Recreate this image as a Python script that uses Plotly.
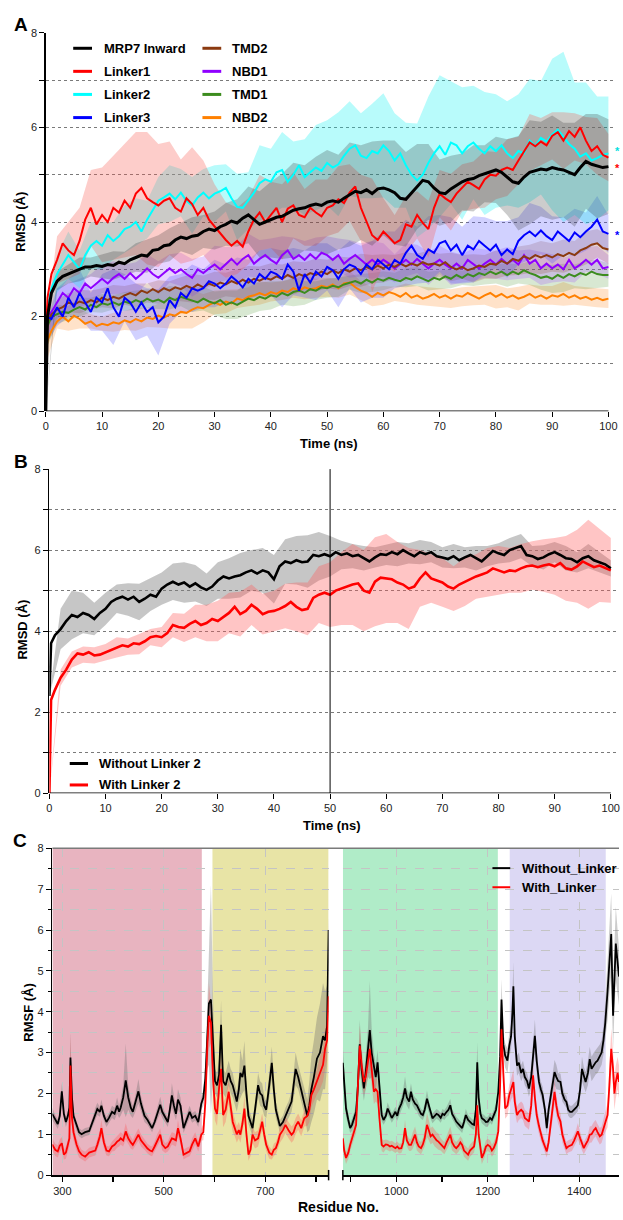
import plotly.graph_objects as go

# ---------------- Panel A data (RMSD, Å) ----------------
time_ns = [0, 0.3] + list(range(1, 101))
band_t = list(range(0, 101, 2))

a_mrp7 = [0, 2.0,
 2.5, 2.75, 2.85, 2.9, 2.95, 3.0, 3.05, 3.05, 3.08, 3.06,
 3.1, 3.08, 3.15, 3.12, 3.2, 3.25, 3.3, 3.28, 3.4, 3.42,
 3.5, 3.52, 3.62, 3.68, 3.65, 3.7, 3.72, 3.8, 3.85, 3.82,
 3.9, 3.95, 4.02, 3.98, 4.08, 4.15, 4.05, 3.95, 4.0, 4.05,
 4.1, 4.12, 4.18, 4.25, 4.28, 4.3, 4.35, 4.38, 4.35, 4.42,
 4.45, 4.42, 4.5, 4.58, 4.65, 4.62, 4.68, 4.6, 4.7, 4.72,
 4.68, 4.62, 4.5, 4.48, 4.62, 4.75, 4.88, 4.85, 4.72, 4.62,
 4.6, 4.7, 4.78, 4.85, 4.9, 4.92, 4.98, 5.02, 5.05, 5.1,
 5.05, 4.95, 4.85, 4.82, 4.95, 5.05, 5.08, 5.12, 5.1, 5.15,
 5.12, 5.1, 5.05, 5.0, 5.15, 5.28, 5.22, 5.18, 5.15, 5.17]
a_linker1 = [1.5, 2.4,
 2.9, 3.2, 3.55, 3.4, 3.3, 3.6, 4.05, 4.3, 3.95, 4.15,
 4.0, 4.3, 4.2, 4.45, 4.3, 4.6, 4.72, 4.5, 4.42, 4.35,
 4.45, 4.5, 4.3, 4.22, 4.5, 4.38, 4.15, 4.3, 4.05, 3.9,
 3.75, 3.62, 3.5, 3.6, 3.48, 3.8, 4.05, 4.2, 4.0, 4.15,
 4.3, 4.0, 4.28, 4.35, 4.15, 4.1, 4.3, 4.2, 4.12, 4.3,
 4.35, 4.48, 4.4, 4.62, 4.75, 4.3, 4.0, 3.72, 3.62, 3.8,
 3.68, 3.55, 3.62, 3.95, 3.9, 4.15, 3.98, 3.85, 4.3, 4.6,
 4.5, 4.42, 4.6, 4.72, 4.85, 4.78, 4.7, 4.9, 5.0, 4.98,
 5.1, 5.15, 5.1, 5.3, 5.5, 5.68, 5.6, 5.7, 5.62, 5.82,
 5.9, 5.72, 5.92, 5.8, 6.0, 5.72, 5.5, 5.6, 5.42, 5.36]
a_linker2 = [1.8, 2.2,
 2.6, 2.9, 3.1, 3.3, 3.15, 3.0, 3.3, 3.5, 3.6, 3.5,
 3.72, 3.6, 3.7, 3.85, 3.9, 4.0, 3.8, 4.05, 4.25, 4.45,
 4.52, 4.6, 4.48, 4.62, 4.45, 4.35, 4.52, 4.62, 4.5, 4.6,
 4.65, 4.72, 4.5, 4.32, 4.3, 4.45, 4.62, 4.82, 4.9, 4.85,
 5.05, 5.1, 4.85, 5.0, 5.2, 4.95, 5.05, 5.15, 5.08, 5.25,
 5.15, 5.22, 5.4, 5.55, 5.62, 5.4, 5.35, 5.5, 5.45, 5.62,
 5.5, 5.3, 5.45, 5.2, 5.0, 4.88, 5.0, 5.25, 5.45, 5.6,
 5.42, 5.68, 5.62, 5.45, 5.6, 5.68, 5.55, 5.45, 5.6, 5.5,
 5.62, 5.45, 5.35, 5.5, 5.45, 5.72, 5.6, 5.78, 5.7, 5.85,
 5.95, 5.8, 5.65, 5.55, 5.38, 5.45, 5.3, 5.35, 5.42, 5.45]
a_linker3 = [1.6, 2.0,
 1.95, 2.2, 2.0, 2.4, 2.2, 2.5, 2.3, 2.1, 2.4, 2.3,
 2.6, 2.2, 2.0, 2.4, 2.3, 2.1, 2.3, 2.1, 2.2, 1.88,
 2.0, 2.35, 2.2, 2.5, 2.4, 2.6, 2.55, 2.6, 2.75, 2.7,
 2.6, 2.7, 2.85, 2.75, 2.62, 2.8, 2.7, 2.9, 2.8, 2.95,
 2.9, 2.8, 3.1, 2.95, 2.55, 2.9, 2.72, 2.95, 2.85, 3.05,
 2.98, 2.8, 3.0, 3.1, 3.05, 2.9, 3.1, 3.0, 3.2, 3.1,
 3.0, 3.2, 3.12, 3.35, 3.5, 3.3, 3.22, 3.42, 3.35, 3.55,
 3.6, 3.4, 3.52, 3.3, 3.5, 3.42, 3.6, 3.5, 3.4, 3.52,
 3.3, 3.42, 3.32, 3.6, 3.72, 3.8, 3.7, 3.82, 3.7, 3.62,
 3.8, 3.7, 3.6, 3.78, 3.68, 3.8, 3.9, 4.05, 3.8, 3.75]
a_nbd1 = [1.7, 2.0,
 2.1, 2.3, 2.5, 2.4, 2.6, 2.5, 2.7, 2.6, 2.7, 2.8,
 2.7, 2.82, 2.9, 2.8, 2.92, 2.8, 2.9, 3.02, 2.9, 2.82,
 2.92, 3.02, 2.92, 3.0, 2.9, 2.82, 3.0, 2.92, 3.02, 3.1,
 3.0, 3.12, 3.22, 3.1, 3.22, 3.3, 3.12, 3.22, 3.3, 3.2,
 3.12, 3.3, 3.4, 3.22, 3.3, 3.2, 3.32, 3.22, 3.35, 3.3,
 3.2, 3.3, 3.12, 3.22, 3.3, 3.2, 3.1, 3.2, 3.1, 3.2,
 3.12, 3.02, 3.12, 3.2, 3.1, 3.22, 3.12, 3.02, 3.12, 3.2,
 3.1, 3.02, 3.12, 3.02, 3.2, 3.1, 3.02, 3.12, 3.2, 3.1,
 3.22, 3.12, 3.2, 3.1, 3.3, 3.12, 3.2, 3.02, 3.12, 3.02,
 3.1, 3.0, 3.2, 3.02, 3.1, 3.2, 3.1, 3.2, 3.02, 3.05]
a_tmd2 = [1.6, 1.9,
 2.05, 2.15, 2.2, 2.3, 2.25, 2.32, 2.28, 2.35, 2.3, 2.4,
 2.35, 2.42, 2.38, 2.45, 2.5, 2.45, 2.55, 2.5, 2.58, 2.52,
 2.6, 2.55, 2.62, 2.58, 2.65, 2.6, 2.68, 2.62, 2.7, 2.65,
 2.72, 2.68, 2.75, 2.7, 2.78, 2.72, 2.8, 2.76, 2.82, 2.78,
 2.85, 2.8, 2.88, 2.82, 2.9, 2.85, 2.92, 2.88, 2.95, 2.9,
 2.98, 2.92, 3.0, 2.95, 3.02, 2.98, 3.05, 3.0, 3.08, 3.02,
 3.1, 3.05, 3.12, 3.06, 3.12, 3.08, 3.15, 3.1, 3.12, 3.08,
 3.15, 3.05, 3.0, 3.05, 2.98, 3.02, 3.08, 3.05, 3.12, 3.1,
 3.18, 3.12, 3.22, 3.18, 3.28, 3.22, 3.3, 3.25, 3.3, 3.25,
 3.32, 3.28, 3.35, 3.3, 3.4, 3.45, 3.52, 3.55, 3.45, 3.42]
a_tmd1 = [1.5, 1.8,
 2.0, 2.05, 2.1, 2.08, 2.15, 2.2, 2.15, 2.25, 2.2, 2.28,
 2.25, 2.3, 2.25, 2.32, 2.28, 2.35, 2.3, 2.38, 2.32, 2.36,
 2.3, 2.4, 2.35, 2.42, 2.38, 2.35, 2.3, 2.38, 2.32, 2.28,
 2.35, 2.25, 2.3, 2.25, 2.32, 2.38, 2.35, 2.42, 2.38, 2.45,
 2.42, 2.5, 2.45, 2.52, 2.55, 2.5, 2.58, 2.55, 2.62, 2.6,
 2.65, 2.62, 2.68, 2.72, 2.75, 2.7, 2.78, 2.72, 2.8, 2.76,
 2.82, 2.78, 2.75, 2.82, 2.78, 2.85, 2.8, 2.75, 2.82, 2.78,
 2.85, 2.8, 2.88, 2.82, 2.9, 2.85, 2.92, 2.88, 2.95, 2.9,
 2.95, 2.88, 2.95, 2.9, 2.98, 2.92, 2.88, 2.82, 2.85, 2.8,
 2.88, 2.82, 2.9, 2.85, 2.92, 2.88, 2.95, 2.9, 2.88, 2.88]
a_nbd2 = [1.2, 1.5,
 1.7, 1.9, 2.0, 1.9, 2.02, 1.95, 1.85, 1.9, 1.8, 1.85,
 1.82, 1.88, 1.85, 1.92, 1.88, 1.95, 1.9, 1.98, 1.95, 2.02,
 1.98, 2.05, 2.02, 2.1, 2.08, 2.15, 2.2, 2.18, 2.25, 2.3,
 2.25, 2.32, 2.28, 2.38, 2.35, 2.42, 2.45, 2.5, 2.45, 2.52,
 2.48, 2.55, 2.52, 2.6, 2.55, 2.62, 2.58, 2.6, 2.65, 2.62,
 2.68, 2.6, 2.7, 2.72, 2.62, 2.55, 2.5, 2.42, 2.5, 2.45,
 2.52, 2.48, 2.42, 2.5, 2.4, 2.45, 2.38, 2.42, 2.48, 2.4,
 2.45, 2.38, 2.45, 2.42, 2.5, 2.44, 2.38, 2.45, 2.5, 2.42,
 2.48, 2.4, 2.45, 2.38, 2.42, 2.48, 2.4, 2.45, 2.38, 2.45,
 2.42, 2.48, 2.4, 2.45, 2.38, 2.42, 2.36, 2.4, 2.35, 2.38]

# band half-widths every 2 ns
a_mrp7_sd = [0.0, 0.2, 0.2, 0.25, 0.2, 0.25, 0.3, 0.25, 0.3, 0.35, 0.3, 0.35, 0.3, 0.4, 0.35,
 0.4, 0.45, 0.5, 0.6, 0.7, 0.8, 0.9, 1.0, 0.9, 1.0, 1.1, 1.0, 1.1, 1.0, 1.1,
 1.0, 1.1, 1.0, 0.9, 0.8, 0.7, 0.7, 0.6, 0.7, 0.6, 0.7, 0.8, 1.0, 1.1, 1.0,
 1.1, 1.0, 1.1, 1.0, 1.1, 1.0]
a_linker1_sd = [0.3, 0.5, 0.6, 0.7, 0.8, 1.0, 1.1, 1.2, 1.3, 1.4, 1.3, 1.2, 1.1, 1.2, 1.0,
 0.9, 0.8, 0.7, 0.7, 0.8, 0.7, 0.8, 0.7, 0.6, 0.7, 0.6, 0.7, 0.6, 0.7, 1.2,
 0.7, 0.6, 0.6, 0.5, 0.6, 0.5, 0.6, 0.5, 0.5, 0.6, 0.5, 0.6, 0.5, 0.6, 0.5,
 0.5, 0.6, 0.5, 0.5, 0.6, 0.5]
a_linker2_sd = [0.2, 0.4, 0.5, 0.4, 0.5, 0.5, 0.4, 0.5, 0.5, 0.4, 0.5, 0.6, 0.5, 0.6, 0.5,
 0.6, 0.5, 0.7, 0.6, 0.8, 0.7, 0.8, 0.7, 0.8, 0.9, 0.9, 1.1, 1.0, 0.9, 1.0,
 1.1, 1.0, 0.9, 1.2, 1.4, 1.5, 1.3, 1.4, 1.2, 1.3, 1.2, 1.1, 1.2, 1.3, 1.2,
 1.6, 1.8, 1.4, 1.5, 1.3, 1.2]
a_linker3_sd = [0.2, 0.4, 0.4, 0.5, 0.4, 0.6, 0.8, 0.5, 0.6, 0.5, 0.7, 0.5, 0.4, 0.5, 0.4,
 0.5, 0.4, 0.5, 0.4, 0.5, 0.5, 0.6, 0.5, 0.5, 0.6, 0.5, 0.6, 0.5, 0.6, 0.6,
 0.7, 0.6, 0.7, 0.6, 0.7, 0.6, 0.7, 0.6, 0.7, 0.6, 0.5, 0.6, 0.5, 0.6, 0.5,
 0.5, 0.4, 0.5, 0.4, 0.5, 0.4]
a_nbd1_sd = [0.2, 0.3, 0.3, 0.3, 0.3, 0.3, 0.35, 0.3, 0.35, 0.3, 0.35, 0.3, 0.35, 0.4, 0.35,
 0.4, 0.35, 0.4, 0.45, 0.4, 0.45, 0.4, 0.45, 0.4, 0.45, 0.4, 0.35, 0.4, 0.35, 0.4,
 0.35, 0.3, 0.35, 0.3, 0.35, 0.3, 0.35, 0.3, 0.35, 0.3, 0.3, 0.35, 0.3, 0.3, 0.35,
 0.3, 0.25, 0.3, 0.25, 0.3, 0.25]
a_tmd2_sd = [0.2, 0.2, 0.2, 0.25, 0.2, 0.2, 0.25, 0.2, 0.25, 0.2, 0.25, 0.2, 0.25, 0.3, 0.25,
 0.3, 0.25, 0.3, 0.35, 0.3, 0.35, 0.3, 0.35, 0.3, 0.35, 0.3, 0.35, 0.3, 0.35, 0.3,
 0.3, 0.25, 0.3, 0.25, 0.3, 0.25, 0.3, 0.25, 0.3, 0.25, 0.3, 0.25, 0.3, 0.3, 0.35,
 0.3, 0.35, 0.3, 0.35, 0.3, 0.3]
a_tmd1_sd = [0.2, 0.2, 0.15, 0.2, 0.15, 0.2, 0.15, 0.2, 0.2, 0.2, 0.2, 0.25, 0.2, 0.25, 0.25,
 0.25, 0.3, 0.3, 0.35, 0.3, 0.3, 0.25, 0.3, 0.25, 0.2, 0.2, 0.2, 0.15, 0.2, 0.2,
 0.2, 0.15, 0.2, 0.2, 0.2, 0.2, 0.2, 0.15, 0.2, 0.2, 0.2, 0.25, 0.2, 0.25, 0.25,
 0.3, 0.3, 0.25, 0.3, 0.3, 0.25]
a_nbd2_sd = [0.2, 0.15, 0.2, 0.2, 0.15, 0.15, 0.2, 0.2, 0.25, 0.2, 0.25, 0.3, 0.35, 0.4, 0.3,
 0.25, 0.25, 0.2, 0.2, 0.25, 0.2, 0.2, 0.2, 0.25, 0.2, 0.2, 0.2, 0.25, 0.2, 0.2,
 0.2, 0.15, 0.2, 0.2, 0.2, 0.2, 0.2, 0.2, 0.2, 0.2, 0.25, 0.2, 0.25, 0.2, 0.2,
 0.2, 0.25, 0.2, 0.2, 0.2, 0.2]

# ---------------- Panel B data (RMSD, Å) ----------------
b_without = [2.4, 3.7,
 3.9, 4.05, 4.25, 4.4, 4.35, 4.45, 4.4, 4.3, 4.45, 4.55,
 4.72, 4.8, 4.85, 4.78, 4.85, 4.72, 4.8, 4.9, 4.85, 5.05,
 5.15, 5.22, 5.15, 5.2, 5.1, 5.18, 5.08, 5.02, 5.1, 5.25,
 5.35, 5.3, 5.35, 5.38, 5.45, 5.5, 5.42, 5.5, 5.45, 5.28,
 5.6, 5.72, 5.68, 5.75, 5.7, 5.72, 5.88, 5.85, 5.9, 5.85,
 5.95, 5.88, 5.92, 5.85, 5.88, 5.8, 5.72, 5.82, 5.9, 5.88,
 5.95, 5.9, 6.0, 5.92, 5.85, 5.95, 5.9, 5.95, 5.85, 5.82,
 5.78, 5.85, 5.75, 5.82, 5.88, 5.8, 5.72, 5.85, 5.98, 5.92,
 5.88, 6.0, 6.05, 6.1, 5.88, 5.85, 5.78, 5.82, 5.9, 5.95,
 5.88, 5.8, 5.78, 5.7, 5.8, 5.85, 5.75, 5.7, 5.65, 5.55]
b_with = [0.0, 2.3,
 2.55, 2.85, 3.05, 3.3, 3.45, 3.42, 3.48, 3.4, 3.42, 3.48,
 3.55, 3.6, 3.65, 3.62, 3.7, 3.68, 3.75, 3.85, 3.88, 3.85,
 3.95, 4.15, 4.1, 4.08, 4.18, 4.25, 4.15, 4.2, 4.3, 4.25,
 4.35, 4.45, 4.6, 4.42, 4.5, 4.65, 4.55, 4.42, 4.48, 4.5,
 4.55, 4.62, 4.72, 4.6, 4.52, 4.55, 4.82, 4.9, 4.95, 4.9,
 5.0, 5.05, 5.1, 5.15, 5.18, 5.0, 4.95, 5.22, 5.32, 5.3,
 5.28, 5.2, 5.15, 5.05, 5.1, 5.3, 5.45, 5.3, 5.25, 5.2,
 5.1, 5.05, 5.15, 5.22, 5.3, 5.35, 5.4, 5.45, 5.55, 5.5,
 5.45, 5.5, 5.48, 5.55, 5.6, 5.62, 5.58, 5.62, 5.65, 5.6,
 5.68, 5.55, 5.52, 5.6, 5.72, 5.65, 5.58, 5.62, 5.55, 5.5]
b_without_sd = [0.0, 0.5, 0.6, 0.5, 0.4, 0.4, 0.35, 0.4, 0.45, 0.4, 0.4, 0.45, 0.5, 0.45, 0.4,
 0.45, 0.5, 0.55, 0.5, 0.55, 0.6, 0.55, 0.6, 0.65, 0.6, 0.5, 0.35, 0.3, 0.3, 0.25,
 0.25, 0.3, 0.25, 0.3, 0.25, 0.25, 0.3, 0.25, 0.3, 0.25, 0.25, 0.3, 0.3, 0.25, 0.3,
 0.25, 0.3, 0.25, 0.3, 0.25, 0.2]
b_with_sd = [0.0, 0.2, 0.2, 0.2, 0.2, 0.2, 0.25, 0.2, 0.25, 0.2, 0.25, 0.3, 0.35, 0.4, 0.45,
 0.5, 0.5, 0.55, 0.5, 0.5, 0.5, 0.55, 0.6, 0.65, 0.7, 0.8, 0.9, 1.0, 1.0, 1.1,
 1.1, 1.0, 1.0, 0.7, 0.6, 0.6, 0.55, 0.6, 0.55, 0.6, 0.6, 0.55, 0.6, 0.6, 0.65,
 0.7, 0.8, 0.9, 1.1, 0.9, 0.8]

# ---------------- Panel C data (RMSF, Å) ----------------
c_res1 = [280, 286, 291, 295, 299, 303, 307, 311, 314, 316,
 319, 322, 328, 333, 338, 345, 353, 360, 365, 369,
 374, 377, 382, 387, 392, 398, 403, 408, 412, 415,
 420, 425, 430, 435, 439, 444, 450, 455, 462, 468,
 473, 477, 482, 487, 493, 497, 503, 508, 512, 516,
 520, 524, 528, 533, 539, 545, 551, 556, 562, 568,
 574, 578, 582, 586, 589, 593, 597, 601, 605, 609,
 613, 617, 622, 628, 632, 636, 640, 644, 648, 651,
 655, 659, 663, 667, 671, 675, 680, 686, 690, 694,
 698, 702, 708, 713, 717, 721, 725, 729, 735, 740,
 746, 752, 756, 760, 765, 771, 777, 783, 787, 791,
 796, 802, 808, 814, 818, 822, 825]
c_without1 = [1.5, 1.35, 1.25, 1.45, 2.05, 1.5, 1.3, 1.45, 1.65, 2.88,
 1.9, 1.45, 1.2, 1.05, 1.0, 1.05, 1.08, 1.3, 1.5, 1.62,
 1.55, 1.7, 1.45, 1.3, 1.4, 1.55, 1.5, 1.7, 1.55, 1.65,
 1.9, 2.32, 1.9, 1.65, 1.55, 1.75, 2.05, 1.75, 1.45, 1.35,
 1.25, 1.15, 1.3, 1.5, 1.72, 1.55, 1.4, 1.3, 1.6, 1.95,
 1.7, 1.5, 1.85, 1.7, 1.15, 1.35, 1.55, 1.4, 1.45, 1.3,
 1.75, 1.9, 2.36, 3.4, 4.2, 4.3, 3.4, 2.3, 2.2, 2.45,
 3.68, 2.3, 2.2, 2.5, 2.3, 2.2, 2.0, 1.8, 2.1, 2.5,
 2.4, 2.68, 2.0, 1.45, 1.3, 1.15, 1.6, 2.2, 2.0, 1.95,
 1.7, 1.6, 2.2, 2.75, 2.1, 1.6, 1.4, 1.2, 1.3, 1.45,
 1.6, 1.8, 2.2, 2.6, 2.4, 2.1, 1.8, 1.45, 1.7, 2.1,
 2.4, 2.85, 3.0, 3.4, 3.3, 3.65, 6.0]
c_with1 = [0.75, 0.62, 0.58, 0.72, 0.78, 0.5, 0.55, 0.72, 0.9, 2.68,
 1.4, 1.05, 0.75, 0.58, 0.5, 0.45, 0.55, 0.58, 0.6, 0.74,
 0.95, 1.15, 0.8, 0.6, 0.58, 0.7, 0.74, 0.82, 0.85, 0.9,
 0.85, 1.07, 0.9, 0.8, 0.74, 0.85, 0.99, 0.85, 0.74, 0.65,
 0.6, 0.58, 0.7, 0.85, 0.99, 0.75, 0.66, 0.7, 0.8, 0.9,
 0.88, 0.85, 1.15, 0.9, 0.5, 0.55, 0.58, 0.75, 0.9, 0.7,
 0.99, 1.05, 1.79, 3.2, 3.9, 3.73, 2.4, 1.63, 1.5, 2.12,
 2.6, 1.47, 1.6, 2.04, 1.6, 1.3, 1.15, 1.0, 1.1, 0.99,
 1.25, 1.63, 1.0, 0.5, 0.62, 0.99, 0.85, 0.9, 1.1, 1.31,
 1.0, 0.74, 0.55, 0.5, 0.62, 0.66, 0.8, 0.99, 1.1, 1.23,
 1.1, 0.99, 1.05, 1.2, 1.31, 1.15, 1.39, 1.45, 1.6, 1.96,
 2.1, 2.28, 2.5, 2.7, 3.09, 3.3, 4.38]
c_without1_sd = [.15, .12, .12, .15, .2, .12, .12, .12, .15, .6,
 .2, .12, .12, .1, .1, .1, .1, .12, .15, .15,
 .12, .15, .12, .12, .12, .15, .15, .2, .15, .2,
 .3, .9, .3, .2, .15, .2, .3, .2, .15, .12,
 .12, .1, .12, .15, .2, .15, .12, .12, .15, .3,
 .2, .15, .25, .2, .12, .12, .15, .12, .12, .12,
 .15, .2, .4, .8, 1.5, 2.8, 1.0, .3, .3, .4,
 .6, .3, .3, .3, .3, .3, .25, .25, .3, .6,
 .4, .6, .3, .2, .2, .2, .2, .3, .3, .3,
 .25, .2, .3, .4, .3, .2, .2, .15, .15, .2,
 .2, .25, .3, .4, .3, .3, .3, .4, .6, .8,
 .9, 1.0, 1.2, 1.3, 1.2, 1.0, .3]
c_with1_sd = [.15, .15, .15, .15, .15, .12, .15, .15, .2, .8,
 .3, .2, .15, .15, .12, .12, .12, .12, .12, .15,
 .15, .2, .15, .12, .12, .12, .15, .15, .15, .15,
 .15, .2, .15, .15, .12, .15, .15, .15, .12, .12,
 .12, .12, .12, .15, .15, .15, .12, .12, .15, .15,
 .15, .15, .2, .15, .12, .12, .12, .15, .15, .12,
 .15, .2, .3, .6, .8, .5, .4, .3, .3, .3,
 .4, .3, .3, .3, .25, .25, .2, .2, .2, .2,
 .2, .3, .2, .15, .15, .2, .2, .2, .2, .2,
 .2, .15, .15, .12, .15, .15, .15, .2, .2, .2,
 .2, .2, .2, .2, .2, .2, .2, .25, .3, .3,
 .3, .3, .4, .4, .5, .5, .3]

c_res2 = [883, 886, 890, 895, 899, 903, 908, 912, 916, 920,
 924, 929, 933, 938, 942, 946, 951, 955, 959, 963,
 968, 972, 977, 981, 986, 990, 994, 998, 1002, 1006,
 1011, 1015, 1019, 1023, 1028, 1032, 1036, 1041, 1045, 1049,
 1054, 1058, 1062, 1067, 1071, 1075, 1079, 1084, 1088, 1092,
 1097, 1101, 1105, 1110, 1114, 1118, 1122, 1127, 1131, 1136,
 1140, 1144, 1148, 1152, 1157, 1161, 1166, 1170, 1174, 1177,
 1180, 1184, 1187, 1192, 1196, 1200, 1205, 1209, 1213, 1218,
 1223, 1227, 1230, 1234, 1238, 1243, 1247, 1251, 1254, 1256,
 1259, 1264, 1268, 1273, 1277, 1281, 1286, 1290, 1295, 1299,
 1303, 1307, 1312, 1316, 1320, 1325, 1329, 1333, 1337, 1342,
 1346, 1350, 1354, 1359, 1363, 1368, 1372, 1376, 1380, 1384,
 1389, 1393, 1397, 1402, 1406, 1410, 1414, 1419, 1423, 1427,
 1432, 1436, 1440, 1445, 1449, 1453, 1457, 1462, 1466, 1470,
 1474, 1477, 1480, 1484, 1487]
c_without2 = [2.75, 2.2, 1.63, 1.35, 1.15, 1.23, 1.4, 1.55, 2.2, 3.2,
 2.6, 2.12, 2.5, 3.0, 3.55, 3.0, 2.6, 2.4, 2.76, 2.1,
 1.47, 1.35, 1.45, 1.63, 1.5, 1.4, 1.47, 1.55, 1.45, 1.63,
 1.75, 1.9, 2.12, 1.9, 1.8, 2.04, 1.85, 1.75, 1.71, 1.6,
 1.5, 1.47, 1.6, 1.87, 1.7, 1.5, 1.39, 1.45, 1.5, 1.47,
 1.4, 1.5, 1.47, 1.55, 1.6, 1.71, 1.5, 1.4, 1.31, 1.25,
 1.2, 1.15, 1.3, 1.47, 1.35, 1.3, 1.25, 1.23, 1.6, 2.76,
 1.9, 1.5, 1.39, 1.35, 1.3, 1.31, 1.4, 1.35, 1.47, 1.6,
 2.04, 2.9, 4.3, 3.2, 2.93, 2.8, 3.17, 3.4, 4.0, 4.62,
 3.4, 2.68, 2.75, 2.5, 2.6, 2.4, 2.3, 2.12, 2.4, 2.9,
 3.41, 2.8, 2.28, 2.1, 1.96, 1.6, 1.15, 1.6, 1.87, 2.2,
 2.52, 2.4, 2.3, 2.28, 2.0, 1.85, 1.79, 1.6, 1.55, 1.55,
 1.6, 1.65, 1.71, 2.1, 2.6, 2.4, 2.28, 2.5, 2.84, 2.6,
 2.7, 2.76, 2.8, 2.9, 3.0, 3.3, 3.73, 4.5, 5.35, 5.9,
 3.9, 4.8, 5.67, 5.2, 4.86]
c_with2 = [0.9, 0.6, 0.42, 0.55, 0.74, 0.9, 1.1, 1.23, 2.2, 3.17,
 2.7, 2.28, 2.4, 2.8, 3.09, 2.6, 2.04, 2.1, 2.04, 1.4,
 0.74, 0.7, 0.75, 0.74, 0.7, 0.72, 0.68, 0.66, 0.7, 0.65,
 0.66, 0.8, 1.15, 0.85, 0.74, 0.74, 0.85, 0.99, 0.8, 0.7,
 0.66, 0.75, 0.9, 1.23, 1.1, 0.95, 0.99, 0.9, 0.85, 0.82,
 0.75, 0.7, 0.66, 0.8, 0.9, 0.99, 0.8, 0.7, 0.66, 0.72,
 0.8, 0.74, 0.6, 0.55, 0.5, 0.6, 0.66, 0.7, 1.0, 1.71,
 1.0, 0.6, 0.42, 0.55, 0.7, 0.74, 0.7, 0.6, 0.66, 0.8,
 1.07, 2.2, 3.57, 2.5, 1.63, 1.7, 1.96, 2.1, 2.2, 2.28,
 1.8, 1.47, 1.55, 1.6, 1.55, 1.4, 1.35, 1.31, 1.7, 2.44,
 1.9, 1.47, 1.2, 0.99, 0.85, 0.7, 0.58, 0.8, 1.23, 1.6,
 2.04, 1.7, 1.45, 1.31, 1.0, 0.8, 0.66, 0.7, 0.72, 0.74,
 0.85, 0.95, 1.07, 0.9, 0.75, 0.66, 0.75, 0.85, 0.99, 1.0,
 1.1, 1.15, 1.05, 0.95, 0.99, 1.15, 1.3, 1.47, 2.2, 3.09,
 2.6, 2.0, 2.28, 2.5, 2.28]
c_without2_sd = [.4, .3, .2, .15, .12, .15, .15, .2, .4, .6,
 .4, .3, .4, .6, 1.2, .6, .4, .3, .3, .3,
 .15, .12, .12, .15, .12, .12, .12, .12, .12, .15,
 .15, .2, .3, .2, .2, .2, .15, .15, .15, .15,
 .12, .12, .15, .2, .15, .12, .12, .12, .12, .12,
 .12, .12, .12, .12, .15, .15, .12, .12, .12, .12,
 .12, .12, .12, .15, .12, .12, .12, .12, .2, .5,
 .2, .15, .12, .12, .12, .12, .12, .12, .12, .15,
 .2, .3, .5, .3, .3, .3, .3, .3, .4, .6,
 .3, .25, .25, .2, .2, .2, .2, .2, .25, .3,
 .4, .3, .2, .2, .2, .15, .15, .15, .2, .2,
 .3, .3, .2, .2, .2, .15, .15, .15, .15, .15,
 .15, .15, .15, .2, .3, .25, .25, .3, .3, .3,
 .3, .3, .3, .3, .3, .35, .5, .7, .9, 1.0,
 .8, .8, .9, .8, .7]
c_with2_sd = [.2, .15, .15, .15, .15, .15, .2, .2, .3, .5,
 .4, .3, .3, .4, .5, .4, .3, .3, .3, .2,
 .15, .15, .12, .12, .12, .12, .12, .12, .12, .12,
 .12, .15, .2, .15, .15, .15, .2, .2, .2, .15,
 .15, .15, .2, .3, .25, .2, .2, .2, .2, .2,
 .15, .15, .15, .15, .2, .2, .2, .15, .15, .15,
 .15, .15, .15, .15, .15, .15, .15, .15, .2, .3,
 .2, .15, .15, .15, .15, .15, .15, .15, .15, .15,
 .2, .3, .4, .3, .25, .25, .25, .25, .3, .3,
 .25, .2, .2, .2, .2, .2, .2, .2, .25, .3,
 .25, .2, .2, .15, .15, .15, .15, .15, .2, .25,
 .3, .25, .2, .2, .2, .15, .15, .15, .15, .15,
 .15, .15, .2, .15, .15, .15, .15, .15, .2, .2,
 .2, .2, .2, .2, .2, .2, .25, .3, .4, .5,
 .4, .4, .4, .4, .4]

# domain regions shown in panel C
c_regions1 = [(280.5, 575, 'rgb(232,180,192)'), (596, 825, 'rgb(232,228,166)')]
c_regions2 = [(883, 1222, 'rgb(176,236,200)'), (1248, 1458, 'rgb(220,216,244)')]

# ---------------- checks ----------------
for arr in [a_mrp7, a_linker1, a_linker2, a_linker3, a_nbd1, a_tmd2, a_tmd1, a_nbd2, b_without, b_with]:
    assert len(arr) == len(time_ns), len(arr)
for arr in [a_mrp7_sd, a_linker1_sd, a_linker2_sd, a_linker3_sd, a_nbd1_sd, a_tmd2_sd, a_tmd1_sd, a_nbd2_sd, b_without_sd, b_with_sd]:
    assert len(arr) == len(band_t), len(arr)
for arr in [c_without1, c_with1, c_without1_sd, c_with1_sd]:
    assert len(arr) == len(c_res1), len(arr)
for arr in [c_without2, c_with2, c_without2_sd, c_with2_sd]:
    assert len(arr) == len(c_res2), len(arr)

# ---------------- figure ----------------
W, H = 623, 1220
FONT = "Arial, 'Liberation Sans', sans-serif"


def fx(x):
    return x / W


def fy(y):
    return 1 - y / H


fig = go.Figure()


def add_band(xs, centers, sd, color, xa, ya):
    up = [c + s for c, s in zip(centers, sd)]
    lo = [max(c - s, 0) for c, s in zip(centers, sd)]
    fig.add_trace(go.Scatter(x=list(xs) + list(xs)[::-1], y=up + lo[::-1], mode='lines',
                             fill='toself', fillcolor=color, line=dict(width=0),
                             xaxis=xa, yaxis=ya, hoverinfo='skip', showlegend=False))


def add_line(xs, ys, color, width, xa, ya):
    fig.add_trace(go.Scatter(x=xs, y=ys, mode='lines', line=dict(color=color, width=width),
                             xaxis=xa, yaxis=ya, hoverinfo='skip', showlegend=False))


# Panel A
a_series = [
    ("MRP7 Inward", a_mrp7, a_mrp7_sd, '#000000', 'rgba(40,40,40,0.24)', 3),
    ("Linker1", a_linker1, a_linker1_sd, '#ff0000', 'rgba(250,90,80,0.3)', 2),
    ("Linker2", a_linker2, a_linker2_sd, '#00ffff', 'rgba(0,240,240,0.28)', 2),
    ("Linker3", a_linker3, a_linker3_sd, '#0000ff', 'rgba(70,70,255,0.25)', 2),
    ("TMD2", a_tmd2, a_tmd2_sd, '#8b3a10', 'rgba(139,58,16,0.2)', 2),
    ("NBD1", a_nbd1, a_nbd1_sd, '#8f00ff', 'rgba(160,80,255,0.25)', 2),
    ("TMD1", a_tmd1, a_tmd1_sd, '#3c8c1e', 'rgba(60,140,30,0.2)', 2),
    ("NBD2", a_nbd2, a_nbd2_sd, '#ff8000', 'rgba(255,140,40,0.25)', 2),
]
draw_order = [7, 6, 5, 4, 3, 2, 1, 0]
for i in draw_order:
    name, vals, sd, col, bcol, w = a_series[i]
    lookup = dict(zip(time_ns, vals))
    add_band(band_t, [lookup[k] for k in band_t], sd, bcol, 'x', 'y')
for i in draw_order:
    name, vals, sd, col, bcol, w = a_series[i]
    add_line(time_ns, vals, col, w, 'x', 'y')

# Panel B
lk_w = dict(zip(time_ns, b_without))
lk_r = dict(zip(time_ns, b_with))
add_band(band_t, [lk_w[k] for k in band_t], b_without_sd, 'rgba(128,128,128,0.45)', 'x2', 'y2')
add_band(band_t, [lk_r[k] for k in band_t], b_with_sd, 'rgba(255,90,90,0.35)', 'x2', 'y2')
add_line(time_ns, b_without, '#000000', 2.6, 'x2', 'y2')
add_line(time_ns, b_with, '#ff0000', 2.6, 'x2', 'y2')

# Panel C
add_band(c_res1, c_without1, c_without1_sd, 'rgba(110,110,110,0.35)', 'x3', 'y3')
add_band(c_res1, c_with1, c_with1_sd, 'rgba(255,80,80,0.3)', 'x3', 'y3')
add_line(c_res1, c_without1, '#000000', 1.8, 'x3', 'y3')
add_line(c_res1, c_with1, '#ff0000', 1.8, 'x3', 'y3')
add_band(c_res2, c_without2, c_without2_sd, 'rgba(110,110,110,0.35)', 'x4', 'y4')
add_band(c_res2, c_with2, c_with2_sd, 'rgba(255,80,80,0.3)', 'x4', 'y4')
add_line(c_res2, c_without2, '#000000', 1.8, 'x4', 'y4')
add_line(c_res2, c_with2, '#ff0000', 1.8, 'x4', 'y4')

tickfont = dict(family=FONT, size=11, color='#222')
grid_dot = dict(showgrid=True, gridcolor='#7a7a7a', griddash='dot', gridwidth=1)
ytxt = ['0', '', '2', '', '4', '', '6', '', '8']

common_x = dict(ticks='outside', ticklen=5, tickwidth=1, tickcolor='black', showgrid=False,
                zeroline=False, showline=False, tickfont=tickfont, fixedrange=True)
common_y = dict(range=[0, 8], tickvals=list(range(9)), ticktext=ytxt, ticks='outside', ticklen=5,
                tickwidth=1, tickcolor='black', showline=True, linecolor='black', linewidth=1.5,
                zeroline=False, tickfont=tickfont, fixedrange=True, **grid_dot)

c_grid = dict(showgrid=True, gridcolor='#c4c4c4', griddash='dash', gridwidth=1)

fig.update_layout(
    width=W, height=H, margin=dict(l=0, r=0, t=0, b=0),
    paper_bgcolor='white', plot_bgcolor='white', showlegend=False,
    font=dict(family=FONT, color='black'),
    xaxis=dict(domain=[fx(43.3), fx(43.3 + 100.9 * 5.69)], anchor='y', range=[0, 100.9],
               tickvals=list(range(0, 101, 10)), **common_x),
    yaxis=dict(domain=[fy(409.3), fy(27)], anchor='x', **common_y),
    xaxis2=dict(domain=[fx(46.9), fx(46.9 + 101 * 5.678)], anchor='y2', range=[0, 101],
                tickvals=list(range(0, 101, 10)), **common_x),
    yaxis2=dict(domain=[fy(795), fy(467.7)], anchor='x2', **common_y),
    xaxis3=dict(domain=[fx(50), fx(329.3)], anchor='y3', range=[280.5, 825],
                tickvals=[300, 500, 700], ticks='outside', ticklen=5, tickwidth=1.2,
                tickcolor='black', showline=True, linecolor='black', linewidth=1.5,
                zeroline=False, tickfont=tickfont, fixedrange=True,
                minor=dict(tickvals=[400, 600, 800], ticks='outside', ticklen=5, tickcolor='black',
                           showgrid=False),
                **c_grid),
    yaxis3=dict(domain=[fy(1180.7), fy(850.7)], anchor='x3', range=[0, 8], tickvals=list(range(9)),
                ticks='outside', ticklen=5, tickwidth=1, tickcolor='black', showline=True,
                linecolor='black', linewidth=1.5, zeroline=False, tickfont=tickfont, fixedrange=True,
                minor=dict(tickvals=[k + 0.5 for k in range(8)], ticks='outside', ticklen=3,
                           tickcolor='black', showgrid=True, gridcolor='#c4c4c4', griddash='dash'),
                **c_grid),
    xaxis4=dict(domain=[fx(343.7), 1.0], anchor='y4', range=[883, 1487],
                tickvals=[1000, 1200, 1400], ticks='outside', ticklen=5, tickwidth=1.2,
                tickcolor='black', showline=True, linecolor='black', linewidth=1.5,
                zeroline=False, tickfont=tickfont, fixedrange=True,
                minor=dict(tickvals=[900, 1100, 1300], ticks='outside', ticklen=5, tickcolor='black',
                           showgrid=False),
                **c_grid),
    yaxis4=dict(domain=[fy(1180.7), fy(850.7)], anchor='x4', range=[0, 8], tickvals=list(range(9)),
                showticklabels=False, ticks='', showline=False, zeroline=False, fixedrange=True,
                minor=dict(tickvals=[k + 0.5 for k in range(8)], showgrid=True, gridcolor='#c4c4c4',
                           griddash='dash'),
                **c_grid),
)

shapes = []
# axis baselines for A and B (end at 100 ns)
shapes.append(dict(type='line', xref='x', yref='y', x0=0, x1=100, y0=0, y1=0,
                   line=dict(color='black', width=1.5)))
shapes.append(dict(type='line', xref='x2', yref='y2', x0=0, x1=100, y0=0, y1=0,
                   line=dict(color='black', width=1.5)))
# 50 ns marker line in B
shapes.append(dict(type='line', xref='x2', yref='y2', x0=50, x1=50, y0=0, y1=8,
                   line=dict(color='black', width=1)))
# domain regions in C
for x0, x1, col in c_regions1:
    shapes.append(dict(type='rect', xref='x3', yref='y3', x0=x0, x1=x1, y0=0, y1=8,
                       fillcolor=col, line=dict(width=0), layer='below'))
for x0, x1, col in c_regions2:
    shapes.append(dict(type='rect', xref='x4', yref='y4', x0=x0, x1=x1, y0=0, y1=8,
                       fillcolor=col, line=dict(width=0), layer='below'))
# top frame of C
shapes.append(dict(type='line', xref='paper', yref='paper', x0=fx(50), x1=1.0, y0=fy(850.7), y1=fy(850.7),
                   line=dict(color='#7a7a7a', width=1.5)))
# axis break marks
for bx in [329.3, 343.7]:
    shapes.append(dict(type='line', xref='paper', yref='paper', x0=fx(bx), x1=fx(bx),
                       y0=fy(1175.5), y1=fy(1186), line=dict(color='black', width=1.5)))

annotations = []


def txt(x, y, s, size=13, bold=True, xanchor='left', color='black', angle=0):
    annotations.append(dict(x=fx(x), y=fy(y), xref='paper', yref='paper', showarrow=False,
                            text=('<b>%s</b>' % s) if bold else s, xanchor=xanchor, yanchor='middle',
                            textangle=angle, font=dict(family=FONT, size=size, color=color)))


# legends (A)
leg_rows = [42.7, 66, 89.3, 112.7]
for idx, (name, vals, sd, col, bcol, w) in enumerate(a_series):
    colx = 0 if idx < 4 else 1
    yy = leg_rows[idx % 4]
    lx0, lx1, tx = (71, 90, 100) if colx == 0 else (201.7, 220.7, 230)
    shapes.append(dict(type='line', xref='paper', yref='paper', x0=fx(lx0), x1=fx(lx1), y0=fy(yy), y1=fy(yy),
                       line=dict(color=col, width=3)))
    txt(tx, yy, name, size=13)

# legend (B)
for yy, name, col in [(765, 'Without Linker 2', '#000000'), (786.7, 'With Linker 2', '#ff0000')]:
    shapes.append(dict(type='line', xref='paper', yref='paper', x0=fx(67.5), x1=fx(86), y0=fy(yy), y1=fy(yy),
                       line=dict(color=col, width=3)))
    txt(95, yy, name, size=13)

# legend (C)
for yy, name, col in [(870.7, 'Without_Linker', '#000000'), (890, 'With_Linker', '#ff0000')]:
    shapes.append(dict(type='line', xref='paper', yref='paper', x0=fx(495), x1=fx(513), y0=fy(yy), y1=fy(yy),
                       line=dict(color=col, width=2)))
    txt(523, yy, name, size=13)

# panel letters
txt(18, 19, 'A', size=19, xanchor='center')
txt(18, 460, 'B', size=19, xanchor='center')
txt(17, 843, 'C', size=19, xanchor='center')

# axis titles
txt(330, 442, 'Time (ns)', size=13, xanchor='center')
txt(333, 828, 'Time (ns)', size=13, xanchor='center')
txt(339, 1213, 'Residue No.', size=14, xanchor='center')
txt(18, 218, 'RMSD (Å)', size=13, xanchor='center', angle=-90)
txt(20, 630, 'RMSD (Å)', size=13, xanchor='center', angle=-90)
txt(25, 1016, 'RMSF (Å)', size=13, xanchor='center', angle=-90)

# significance marks at right edge of A
for yy, col in [(146, '#00e0e0'), (164, '#ff0000'), (231, '#0000ff')]:
    txt(617, yy, '*', size=11, color=col)

fig.update_layout(shapes=shapes, annotations=annotations)

fig.write_html("out.html", config={'displayModeBar': False, 'staticPlot': True},
               post_script="document.body.style.margin='0px';document.body.style.overflow='hidden';")
